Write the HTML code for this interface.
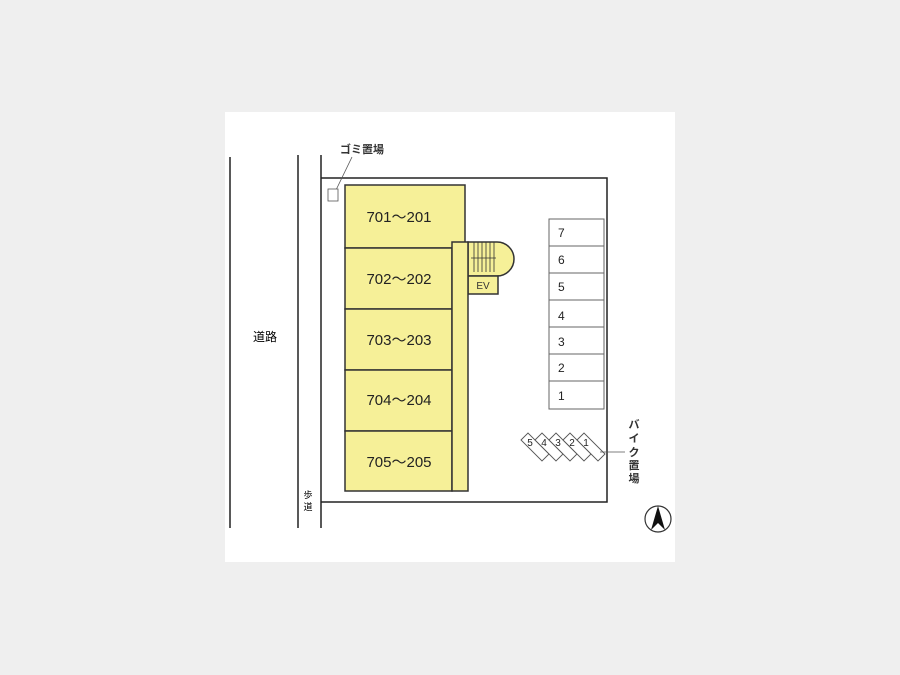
<!DOCTYPE html>
<html><head><meta charset="utf-8"><style>
html,body{margin:0;padding:0;background:#efefef;}
svg{display:block;font-family:"Liberation Sans","Noto Sans CJK JP",sans-serif;}
</style></head><body>
<svg width="900" height="675" viewBox="0 0 900 675" xmlns="http://www.w3.org/2000/svg">
<rect x="0" y="0" width="900" height="675" fill="#efefef"/>
<rect x="225" y="112" width="450" height="450" fill="#fff"/>
<g stroke="#222" stroke-width="1.5" fill="none">
<line x1="230" y1="157" x2="230" y2="528"/>
<line x1="298" y1="155" x2="298" y2="528"/>
<line x1="321" y1="155" x2="321" y2="528"/>
<polyline points="321,178 607,178 607,502 321,502"/>
</g>
<text x="265" y="341" font-size="12" text-anchor="middle">道路</text>
<text x="308" y="498" font-size="9" text-anchor="middle">歩</text>
<text x="308" y="510" font-size="9" text-anchor="middle">道</text>
<text x="362" y="153" font-size="11" text-anchor="middle" font-weight="bold" fill="#333">ゴミ置場</text>
<line x1="352" y1="157" x2="336" y2="190" stroke="#555" stroke-width="0.8"/>
<rect x="328" y="189" width="10" height="12" fill="#fff" stroke="#555" stroke-width="0.8"/>
<g fill="#f6f098" stroke="#333" stroke-width="1.5">
<path d="M468,242 H497 A17,17 0 0 1 497,276 H468 Z"/>
<rect x="468" y="276" width="30" height="18"/>
<rect x="345" y="185" width="120" height="63"/>
<rect x="345" y="248" width="107" height="61"/>
<rect x="345" y="309" width="107" height="61"/>
<rect x="345" y="370" width="107" height="61"/>
<rect x="345" y="431" width="107" height="60"/>
<rect x="452" y="242" width="16" height="249"/>
</g>
<g stroke="#333" stroke-width="0.8">
<line x1="474" y1="242" x2="474" y2="272"/><line x1="478" y1="242" x2="478" y2="272"/>
<line x1="482" y1="242" x2="482" y2="272"/><line x1="486" y1="242" x2="486" y2="272"/>
<line x1="490" y1="242" x2="490" y2="272"/><line x1="494" y1="242" x2="494" y2="272"/>
<line x1="471" y1="258" x2="496" y2="258"/>
</g>
<text x="483" y="289" font-size="10" text-anchor="middle" fill="#333">EV</text>
<g font-size="15" text-anchor="middle" fill="#222">
<text x="399" y="222">701～201</text>
<text x="399" y="284">702～202</text>
<text x="399" y="345">703～203</text>
<text x="399" y="405">704～204</text>
<text x="399" y="467">705～205</text>
</g>
<g fill="#fff" stroke="#666" stroke-width="1">
<rect x="549" y="219" width="55" height="190"/>
<line x1="549" y1="246" x2="604" y2="246"/><line x1="549" y1="273" x2="604" y2="273"/>
<line x1="549" y1="300" x2="604" y2="300"/><line x1="549" y1="327" x2="604" y2="327"/>
<line x1="549" y1="354" x2="604" y2="354"/><line x1="549" y1="381" x2="604" y2="381"/>
</g>
<g font-size="12" fill="#222">
<text x="558" y="237">7</text><text x="558" y="264">6</text><text x="558" y="291">5</text>
<text x="558" y="320">4</text><text x="558" y="346">3</text><text x="558" y="372">2</text>
<text x="558" y="400">1</text>
</g>
<g fill="#fff" stroke="#555" stroke-width="0.9">
<polygon points="521,440 528,433 549,454 542,461"/>
<polygon points="535,440 542,433 563,454 556,461"/>
<polygon points="549,440 556,433 577,454 570,461"/>
<polygon points="563,440 570,433 591,454 584,461"/>
<polygon points="577,440 584,433 605,454 598,461"/>
</g>
<g font-size="10" fill="#222" text-anchor="middle">
<text x="530" y="446">5</text><text x="544" y="446">4</text><text x="558" y="446">3</text>
<text x="572" y="446">2</text><text x="586" y="446">1</text>
</g>
<line x1="600" y1="452" x2="625" y2="452" stroke="#555" stroke-width="0.8"/>
<g font-size="11" font-weight="bold" fill="#333" text-anchor="middle">
<text x="634" y="428">バ</text><text x="634" y="442">イ</text><text x="634" y="456">ク</text>
<text x="634" y="469">置</text><text x="634" y="482">場</text>
</g>
<circle cx="658" cy="519" r="13" fill="#fff" stroke="#333" stroke-width="1.2"/>
<polygon points="658,506 651,530 658,523 665,530" fill="#111"/>
</svg>
</body></html>
